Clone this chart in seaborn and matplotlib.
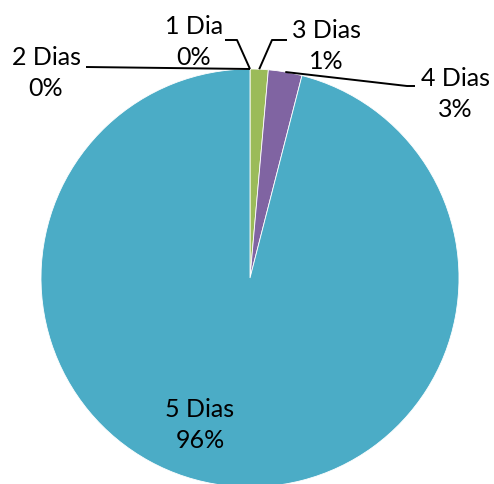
import numpy as np
import matplotlib
matplotlib.use("Agg")
import matplotlib.pyplot as plt
import seaborn as sns

categories = ["1 Dia", "2 Dias", "3 Dias", "4 Dias", "5 Dias"]
values = [0.0, 0.0, 1.4, 2.6, 96.0]
colors = ["#C0504D", "#4F81BD", "#9BBB59", "#8064A2", "#4BACC6"]

sns.set_theme(style="white")
plt.rcParams['font.family'] = ['Lato', 'DejaVu Sans']

W, H, DPI = 494, 484, 100
fig = plt.figure(figsize=(W / DPI, H / DPI), dpi=DPI)
ax = fig.add_axes([0, 0, 1, 1])

R = 209.0
CX, CY = 250.0, 278.0

wedges, _ = ax.pie(values, colors=colors, startangle=90, counterclock=False,
                   radius=1, center=(0, 0), frame=False,
                   wedgeprops=dict(edgecolor="white", linewidth=0.6))

def px(x, y):
    return ((x - CX) / R, (CY - y) / R)

ax.set_xlim(-CX / R, (W - CX) / R)
ax.set_ylim((CY - H) / R, CY / R)
ax.set_aspect('auto')
ax.axis('off')

total = sum(values)
pcts = [f"{round(v / total * 100):.0f}%" for v in values]

def anchor(i):
    w = wedges[i]
    th = np.deg2rad((w.theta1 + w.theta2) / 2)
    return (np.cos(th), np.sin(th))

fs = 18
ls = 1.38
# label layout: text center (px), leader path points (px) from text side to wedge
layout = {
    0: dict(text=(194, 42), path=[(225, 40), (237, 40)]),
    1: dict(text=(46, 73), path=[(86, 67)]),
    2: dict(text=(326, 46), path=[(287, 40), (272, 40)]),
    3: dict(text=(455, 94), path=[(415, 86), (407, 86)]),
}
for i, lay in layout.items():
    tx, ty = px(*lay["text"])
    ax.text(tx, ty, f"{categories[i]}\n{pcts[i]}", ha="center", va="center",
            fontsize=fs, color="black", linespacing=ls)
    pts = [px(*p) for p in lay["path"]] + [anchor(i)]
    xs, ys = zip(*pts)
    ax.plot(xs, ys, color="black", lw=1.4, solid_capstyle="butt")

tx, ty = px(200, 425)
ax.text(tx, ty, f"{categories[4]}\n{pcts[4]}", ha="center", va="center",
        fontsize=fs, color="black", linespacing=ls)

fig.savefig("out.png", dpi=DPI)
